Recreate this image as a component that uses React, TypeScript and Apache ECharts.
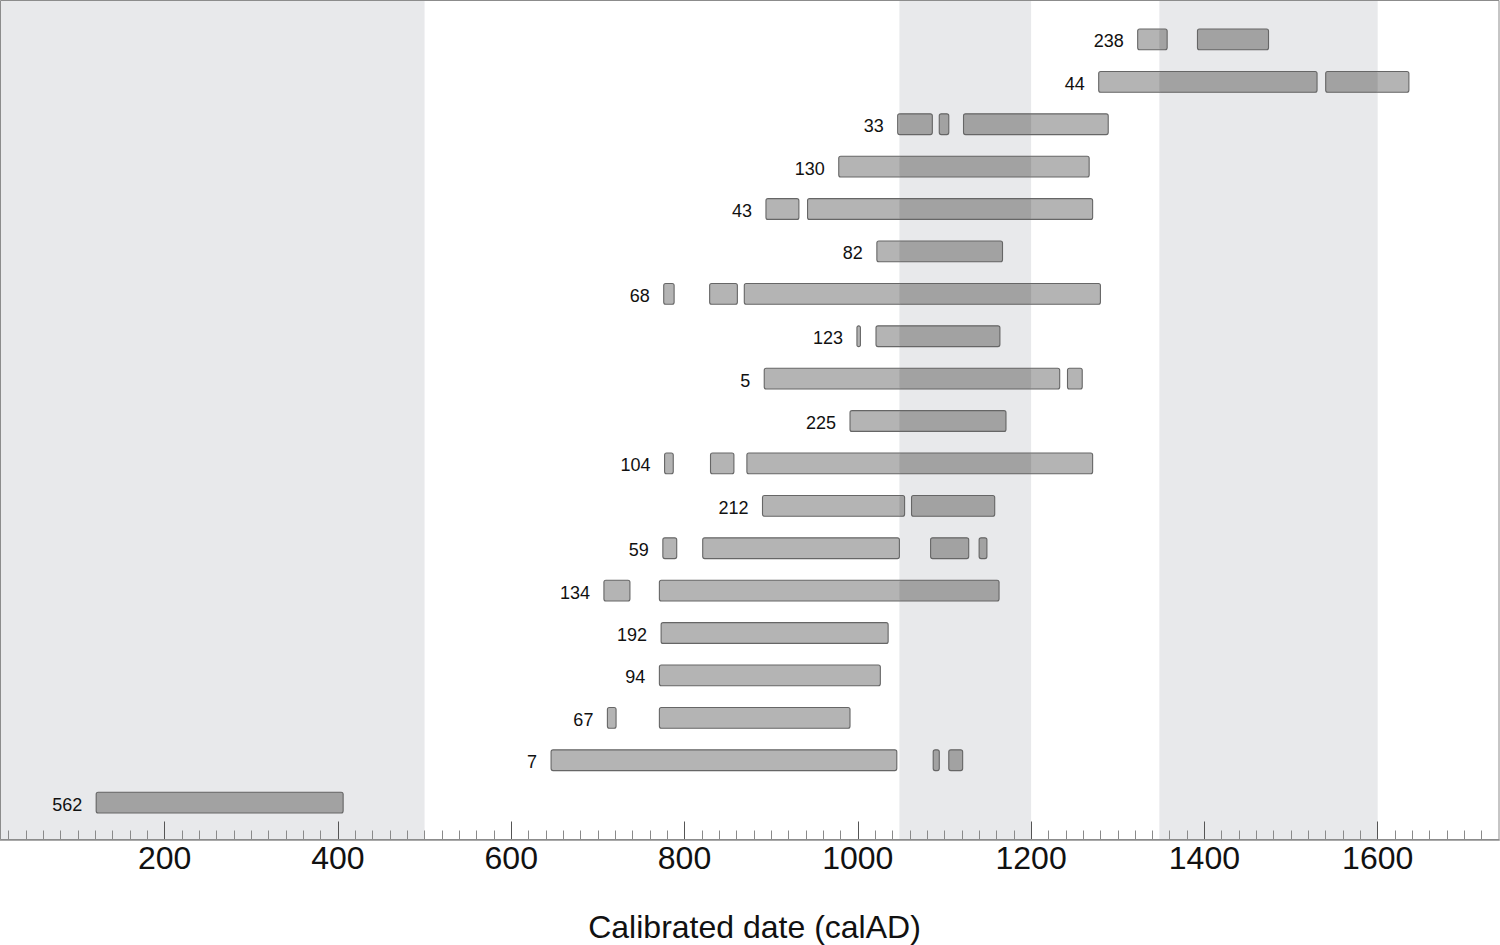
import React, { useEffect, useRef } from 'react';
import * as echarts from 'echarts';

// Row labels, bottom (index 0) to top
const ROW_LABELS = ['562', '7', '67', '94', '192', '134', '59', '212', '104', '225', '5', '123', '68', '82', '43', '130', '33', '44', '238'];

// [rowIndex, start (calAD), end (calAD)]
const SEGMENTS: [number, number, number][] = [
  [0, 121, 406],
  [1, 646, 1045], [1, 1087, 1094], [1, 1105, 1121],
  [2, 711, 721], [2, 771, 991],
  [3, 771, 1026],
  [4, 773, 1035],
  [5, 707, 737], [5, 771, 1163],
  [6, 775, 791], [6, 821, 1048], [6, 1084, 1128], [6, 1140, 1149],
  [7, 890, 1054], [7, 1062, 1158],
  [8, 777, 787], [8, 830, 857], [8, 872, 1271],
  [9, 991, 1171],
  [10, 892, 1233], [10, 1242, 1259],
  [11, 999, 1003], [11, 1021, 1164],
  [12, 776, 788], [12, 829, 861], [12, 869, 1280],
  [13, 1022, 1167],
  [14, 894, 932], [14, 942, 1271],
  [15, 978, 1267],
  [16, 1046, 1086], [16, 1094, 1105], [16, 1122, 1289],
  [17, 1278, 1530], [17, 1540, 1636],
  [18, 1323, 1357], [18, 1392, 1474],
];

// Shaded periods [start, end]
const BANDS: [number, number][] = [
  [10, 500],
  [1048, 1200],
  [1348, 1600],
];

const X_MIN = 10;
const X_MAX = 1740;
const Y_MIN = -0.87;
const Y_MAX = 18.93;
const MAJOR_TICKS = [200, 400, 600, 800, 1000, 1200, 1400, 1600];
const MINOR_TICKS: number[] = [];
for (let v = 20; v <= 1720; v += 20) if (v % 200 !== 0) MINOR_TICKS.push(v);
const AXIS_TITLE = 'Calibrated date (calAD)';

const FONT = '"Liberation Sans", Arial, Helvetica, sans-serif';

export default function App() {
  const ref = useRef<HTMLDivElement>(null);

  useEffect(() => {
    if (!ref.current) return;
    const chart = echarts.init(ref.current, undefined, { renderer: 'svg' });

    const rowStarts = ROW_LABELS.map((_, i) => {
      const s = SEGMENTS.filter((d) => d[0] === i).map((d) => d[1]);
      return [i, Math.min(...s)];
    });

    const option: any = {
      animation: false,
      backgroundColor: '#ffffff',
      grid: {
        left: 0,
        top: 0,
        right: 1,
        bottom: 945 - 839.5,
        containLabel: false,
        outerBoundsMode: 'none',
      },
      xAxis: [
        {
          type: 'value',
          min: X_MIN,
          max: X_MAX,
          position: 'bottom',
          axisLine: { show: true, onZero: false, lineStyle: { color: '#a9a9a9', width: 2 } },
          axisTick: {
            show: true,
            customValues: MAJOR_TICKS,
            inside: true,
            length: 18,
            lineStyle: { color: '#555555', width: 1 },
          },
          axisLabel: {
            customValues: MAJOR_TICKS,
            formatter: (v: number) => String(v),
            fontSize: 32,
            color: '#111111',
            margin: 2,
            fontFamily: FONT,
          },
          splitLine: { show: false },
          name: AXIS_TITLE,
          nameLocation: 'middle',
          nameGap: 71,
          nameTextStyle: { fontSize: 32, color: '#111111', fontFamily: FONT, padding: [0, 0, 0, 10] },
        },
        {
          type: 'value',
          min: X_MIN,
          max: X_MAX,
          position: 'bottom',
          axisLine: { show: false, onZero: false },
          axisTick: {
            show: true,
            customValues: MINOR_TICKS,
            inside: true,
            length: 9,
            lineStyle: { color: '#8a8a8a', width: 1 },
          },
          axisLabel: { show: false },
          splitLine: { show: false },
        },
      ],
      yAxis: { type: 'value', min: Y_MIN, max: Y_MAX, show: false },
      graphic: [
        {
          type: 'rect',
          z: 100,
          silent: true,
          shape: { x: 0.5, y: 0.5, width: 1498.5, height: 839 },
          style: { fill: 'none', stroke: '#8c8c8c', lineWidth: 1 },
        },
      ],
      series: [
        {
          type: 'custom',
          name: 'bands',
          z: 0,
          silent: true,
          data: BANDS,
          renderItem: (params: any, api: any) => {
            const p0 = api.coord([api.value(0), Y_MAX]);
            const p1 = api.coord([api.value(1), Y_MIN]);
            return {
              type: 'rect',
              shape: { x: p0[0], y: p0[1], width: p1[0] - p0[0], height: p1[1] - p0[1] },
              style: { fill: '#e8e9eb' },
            };
          },
        },
        {
          type: 'custom',
          name: 'ranges',
          z: 2,
          silent: true,
          data: SEGMENTS,
          renderItem: (params: any, api: any) => {
            const row = api.value(0);
            const s = api.value(1);
            const e = api.value(2);
            const p0 = api.coord([s, row]);
            const p1 = api.coord([e, row]);
            const h = api.size([0, 1])[1] * 0.49;
            const y = p0[1] - h / 2;
            const children: any[] = [
              {
                type: 'rect',
                shape: { x: p0[0], y, width: p1[0] - p0[0], height: h, r: 2 },
                style: { fill: '#b4b4b4' },
              },
            ];
            BANDS.forEach((b) => {
              const o0 = Math.max(s, b[0]);
              const o1 = Math.min(e, b[1]);
              if (o1 > o0) {
                const q0 = api.coord([o0, row]);
                const q1 = api.coord([o1, row]);
                children.push({
                  type: 'rect',
                  shape: { x: q0[0], y, width: q1[0] - q0[0], height: h, r: 2 },
                  style: { fill: '#a2a2a2' },
                });
              }
            });
            children.push({
              type: 'rect',
              shape: { x: p0[0], y, width: p1[0] - p0[0], height: h, r: 2 },
              style: { fill: 'none', stroke: '#666666', lineWidth: 1.1 },
            });
            return { type: 'group', children };
          },
        },
        {
          type: 'custom',
          name: 'labels',
          z: 3,
          silent: true,
          data: rowStarts,
          renderItem: (params: any, api: any) => {
            const p = api.coord([api.value(1), api.value(0)]);
            return {
              type: 'text',
              x: p[0] - 14,
              y: p[1] + 2,
              style: {
                text: ROW_LABELS[params.dataIndex],
                fill: '#111111',
                fontSize: 18,
                fontFamily: FONT,
                align: 'right',
                verticalAlign: 'middle',
              },
            };
          },
        },
      ],
    };

    chart.setOption(option);
    return () => chart.dispose();
  }, []);

  return (
    <div
      ref={ref}
      style={{ position: 'fixed', left: 0, top: 0, width: 1500, height: 945, background: '#fff' }}
    />
  );
}
